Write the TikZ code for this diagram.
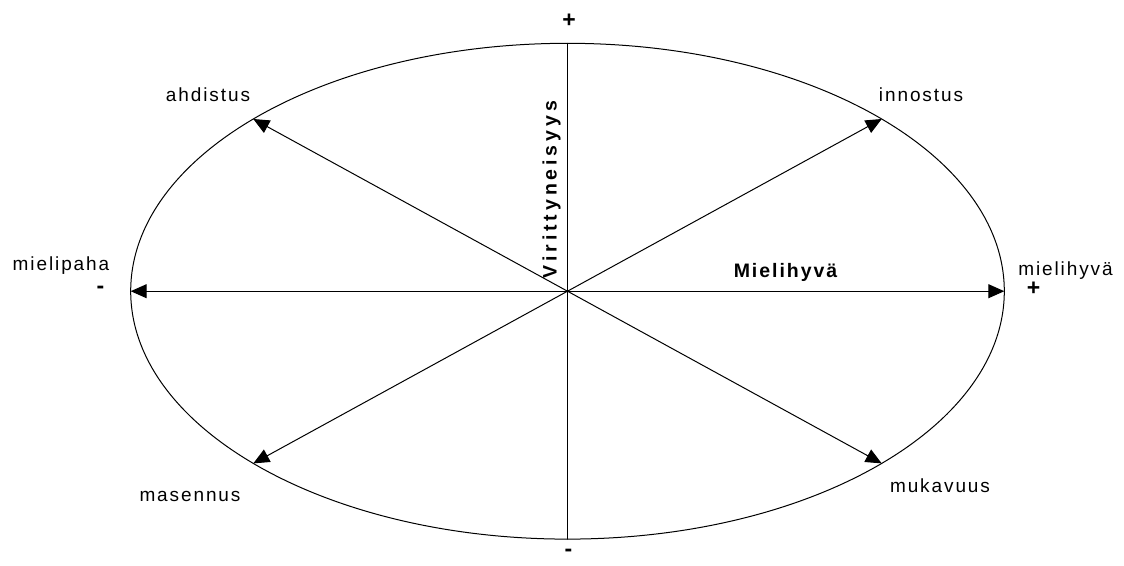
\documentclass[tikz,border=0pt]{standalone}
\usepackage{fontspec}
\setmainfont{Liberation Sans}
\usetikzlibrary{arrows.meta}

\tikzset{
  lbl/.style={font=\fontsize{19}{22}\selectfont\addfontfeature{LetterSpace=10}, anchor=base, inner sep=0pt},
  axisname/.style={font=\fontsize{19.5}{22}\selectfont\bfseries\addfontfeature{LetterSpace=10}, anchor=base, inner sep=0pt},
  sign/.style={font=\fontsize{23}{26}\selectfont\bfseries, inner sep=0pt}
}

\begin{document}
\begin{tikzpicture}[x=1pt,y=-1pt,line width=1pt,line join=round,line cap=round,>={Triangle[length=16pt,width=14pt]}]
  \useasboundingbox (0,0) rectangle (1124,565);

  \coordinate (O) at (567.5,291.2);
  \draw (O) ellipse [x radius=436.8, y radius=247.9];

  % points on the ellipse
  \foreach \a/\n in {0/east,180/west,-90/top,90/bottom,-44/ne,-136/nw,136/sw,44/se}
    \path (O) ++(\a:436.8 and 247.9) coordinate (\n);

  \draw (top) -- (bottom);
  \draw[<->] (west) -- (east);
  \draw[<->] (sw) -- (ne);
  \draw[<->] (nw) -- (se);

  % signs
  \node[sign] (plustop) at (569,21) {+};
  \node[sign] (minusbot) at (568.5,553) {-};
  \node[sign] (minusleft) at (100.5,290) {-};
  \node[sign] (plusright) at (1033.5,288.5) {+};

  % labels
  \node[lbl] (ahdistus) at (208,101.7) {ahdistus};
  \node[lbl] (innostus) at (921,101.7) {innostus};
  \node[lbl] (mielipaha) at (61,270.7) {mielipaha};
  \node[lbl] (mielihyva) at (1065.5,275) {mielihyvä};
  \node[lbl] (masennus) at (190,501.7) {masennus};
  \node[lbl] (mukavuus) at (940,492) {mukavuus};

  \node[axisname] (mielihyvaaxis) at (785.5,277.3) {Mielihyvä};
  \node[axisname,rotate=90,font=\fontsize{19.5}{22}\selectfont\bfseries\addfontfeature{LetterSpace=20}] (viritys) at (556.7,189.5) {Virittyneisyys};
\end{tikzpicture}
\end{document}
